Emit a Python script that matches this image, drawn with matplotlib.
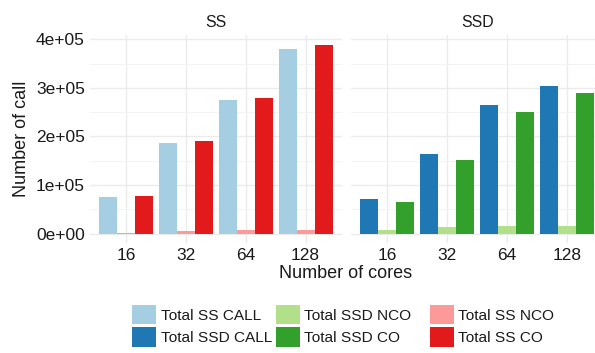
import matplotlib
matplotlib.use("Agg")
import matplotlib.pyplot as plt
import numpy as np
from matplotlib.patches import Patch
from matplotlib.ticker import MultipleLocator, FuncFormatter

plt.rcParams['font.family'] = ['Liberation Sans', 'DejaVu Sans']

cores = ["16", "32", "64", "128"]

ss_call = [75000, 186000, 275000, 380000]
ss_nco = [1500, 5500, 6500, 8000]
ss_co = [77000, 190000, 279000, 389000]

ssd_call = [71000, 164000, 265000, 304000]
ssd_nco = [7500, 14000, 16000, 16000]
ssd_co = [65000, 151000, 250000, 289000]

# Paired palette
C_SS_CALL, C_SSD_CALL = "#A6CEE3", "#1F78B4"
C_SSD_NCO, C_SSD_CO = "#B2DF8A", "#33A02C"
C_SS_NCO, C_SS_CO = "#FB9A99", "#E31A1C"

W, H = 595, 353
fig = plt.figure(figsize=(W / 100, H / 100), dpi=100)

def px_axes(x0, y0, x1, y1):
    # pixel box (top-left origin) -> figure axes
    return fig.add_axes([x0 / W, 1 - y1 / H, (x1 - x0) / W, (y1 - y0) / H])

ymax = max(ss_co + ss_call + ssd_call + ssd_co)
ylim = (-0.05 * ymax, 1.05 * ymax)

TXT = "#1a1a1a"
GRID = "#EBEBEB"
TICK_FS = 12.5
TITLE_FS = 13.0
STRIP_FS = 11.4
LEG_FS = 11.1

def panel(ax, title, series, colors):
    x = np.arange(len(cores))
    for k, (vals, col) in enumerate(zip(series, colors)):
        ax.bar(x + (k - 1) * 0.3, vals, width=0.3, color=col, zorder=2, linewidth=0)
    ax.set_xlim(-0.6, len(cores) - 0.4)
    ax.set_ylim(*ylim)
    ax.set_xticks(x)
    ax.set_xticklabels(cores)
    ax.yaxis.set_major_locator(MultipleLocator(100000))
    ax.yaxis.set_minor_locator(MultipleLocator(50000))
    ax.yaxis.set_major_formatter(FuncFormatter(lambda v, p: f"{v:.0e}"))
    ax.grid(True, which="major", color=GRID, lw=1.0, zorder=0)
    ax.grid(True, which="minor", axis="y", color="#F3F3F3", lw=0.7, zorder=0)
    ax.set_axisbelow(True)
    for s in ax.spines.values():
        s.set_visible(False)
    ax.tick_params(which="both", length=0, labelsize=TICK_FS, colors=TXT)
    ax.tick_params(axis="x", pad=3.8)
    ax.tick_params(axis="y", pad=3.6)
    ax.set_title(title, fontsize=STRIP_FS, color=TXT, pad=5.7)

ax1 = px_axes(90, 35.3, 341.5, 243)
panel(ax1, "SS", [ss_call, ss_nco, ss_co], [C_SS_CALL, C_SS_NCO, C_SS_CO])
ax1.set_ylabel("Number of call", fontsize=TITLE_FS, color=TXT, labelpad=4)

ax2 = px_axes(351.3, 35.3, 603, 243)
panel(ax2, "SSD", [ssd_call, ssd_nco, ssd_co], [C_SSD_CALL, C_SSD_NCO, C_SSD_CO])
ax2.tick_params(axis="y", labelleft=False)

fig.text(346 / W, 1 - 273.5 / H, "Number of cores", fontsize=TITLE_FS, color=TXT,
         ha="center", va="center")

# legend: three columns of two keys each
legend_cols = [
    (132.3, [("Total SS CALL", C_SS_CALL), ("Total SSD CALL", C_SSD_CALL)]),
    (276.0, [("Total SSD NCO", C_SSD_NCO), ("Total SSD CO", C_SSD_CO)]),
    (430.0, [("Total SS NCO", C_SS_NCO), ("Total SS CO", C_SS_CO)]),
]
fpx = LEG_FS * 100 / 72
for x0, entries in legend_cols:
    handles = [Patch(facecolor=c, edgecolor="none") for _, c in entries]
    labels = [t for t, _ in entries]
    leg = fig.legend(handles, labels, loc="upper left",
                     bbox_to_anchor=(x0 / W, 1 - 305 / H),
                     frameon=False, fontsize=LEG_FS, borderpad=0, borderaxespad=0,
                     handlelength=24 / fpx, handleheight=24 / fpx,
                     handletextpad=4.3 / fpx, labelspacing=3 / fpx)
    for t in leg.get_texts():
        t.set_color(TXT)

fig.savefig("out.png", dpi=100)
